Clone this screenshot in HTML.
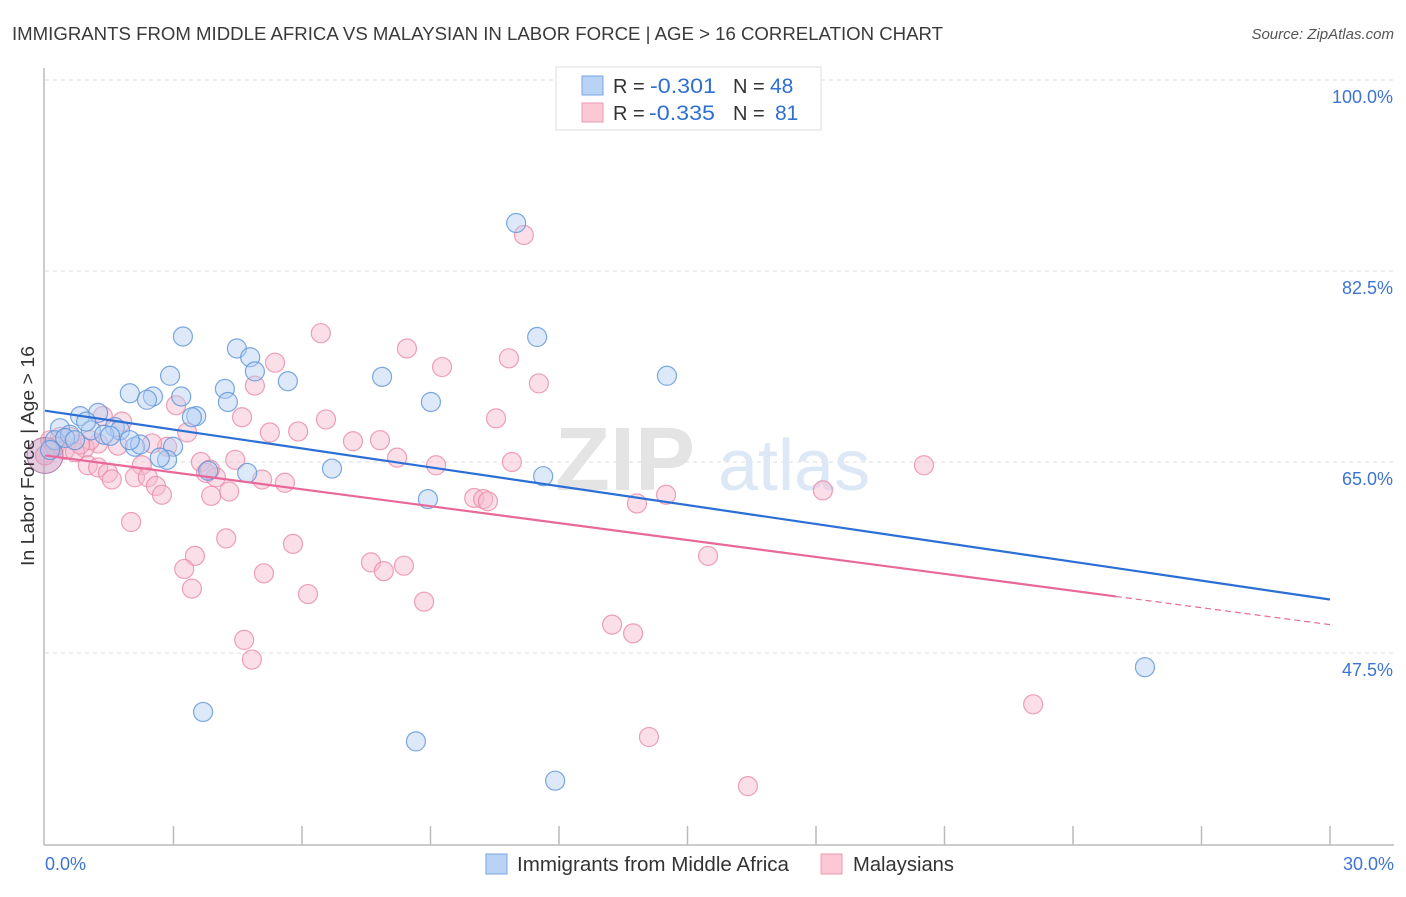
<!DOCTYPE html>
<html><head><meta charset="utf-8">
<style>
body{margin:0;background:#fff;font-family:"Liberation Sans",sans-serif;}
svg text{font-family:"Liberation Sans",sans-serif;}
</style></head>
<body>
<svg id="chart" width="1406" height="892" viewBox="0 0 1406 892" xmlns="http://www.w3.org/2000/svg">
<text x="12" y="40" font-size="18" fill="#3a3a3a" textLength="931" lengthAdjust="spacingAndGlyphs">IMMIGRANTS FROM MIDDLE AFRICA VS MALAYSIAN IN LABOR FORCE | AGE &gt; 16 CORRELATION CHART</text>
<text x="1394" y="39" font-size="15" fill="#555" font-style="italic" text-anchor="end">Source: ZipAtlas.com</text>
<g id="grid"></g>
<text x="555" y="490" font-size="90" fill="#e4e4e4" font-family="Liberation Serif" font-weight="bold">ZIP</text>
<text x="718" y="490" font-size="72" fill="#dce8f6">atlas</text>
<g id="axes"></g>
<g id="pinkPts"></g>
<g id="bluePts"></g>
<g id="lines"></g>
<text transform="translate(34,456) rotate(-90)" font-size="18" fill="#333" text-anchor="middle" textLength="220" lengthAdjust="spacingAndGlyphs">In Labor Force | Age &gt; 16</text>
<g>
<rect x="556" y="67" width="265" height="63" fill="#fff" stroke="#ddd"/>
<rect x="582" y="76" width="21" height="19" fill="#b9d3f5" stroke="#7aa6e3"/>
<rect x="582" y="103" width="21" height="19" fill="#fcc8d6" stroke="#ee9ab3"/>
<text x="613" y="93" font-size="20" fill="#333">R =</text><text x="650" y="93" font-size="21" fill="#2e6fd2" textLength="66" lengthAdjust="spacingAndGlyphs">-0.301</text>
<text x="733" y="93" font-size="20" fill="#333">N =</text><text x="770" y="93" font-size="21" fill="#2e6fd2">48</text>
<text x="613" y="120" font-size="20" fill="#333">R =</text><text x="649" y="120" font-size="21" fill="#2e6fd2" textLength="66" lengthAdjust="spacingAndGlyphs">-0.335</text>
<text x="733" y="120" font-size="20" fill="#333">N =</text><text x="775" y="120" font-size="21" fill="#2e6fd2">81</text>
</g>
<g>
<rect x="486" y="854" width="21" height="20" fill="#b9d3f5" stroke="#7aa6e3"/>
<text x="517" y="871" font-size="20" fill="#333" textLength="272" lengthAdjust="spacingAndGlyphs">Immigrants from Middle Africa</text>
<rect x="821" y="854" width="21" height="20" fill="#fcc8d6" stroke="#ee9ab3"/>
<text x="853" y="871" font-size="20" fill="#333" textLength="101" lengthAdjust="spacingAndGlyphs">Malaysians</text>
</g>
</svg>
<script>
const yTicks=[100,82.5,65,47.5];
const yTickLabels=["100.0%","82.5%","65.0%","47.5%"];
const xTickCount=10;
const blueX=[11.0,3.22,11.49,4.48,4.79,2.92,7.87,14.52,5.67,4.90,1.98,4.20,2.52,2.38,3.18,4.27,9.01,3.53,3.43,1.24,0.82,0.35,1.07,1.63,1.75,1.38,2.10,2.22,2.99,2.85,2.68,3.81,4.72,6.70,11.63,8.94,25.68,3.69,8.66,11.91,0.23,0.58,0.47,1.52,0.96,0.12,0.70,1.98];
const blueY=[86.9,76.5,76.45,75.4,74.6,72.9,72.8,72.9,72.4,73.3,71.3,71.7,71.0,70.7,71.0,70.5,70.5,69.2,69.1,69.5,69.2,68.1,67.9,68.2,67.9,67.5,66.4,66.6,66.4,65.2,65.4,64.2,64.0,64.4,63.7,61.6,46.2,42.1,39.4,35.8,67.0,67.5,67.2,67.4,68.7,66.1,67.0,67.0];
const pinkX=[11.18,6.44,8.45,5.37,9.27,10.83,11.53,4.90,3.06,4.60,6.56,10.53,1.35,1.80,3.32,5.25,5.91,7.19,7.82,2.85,2.50,1.70,1.24,0.93,8.22,9.13,10.90,20.52,4.44,3.64,2.26,1.00,1.24,1.47,1.56,2.10,2.40,3.76,3.99,5.07,5.60,2.59,2.73,3.88,4.30,10.02,10.23,10.34,13.82,14.50,18.16,2.01,4.23,5.79,3.50,3.25,7.61,7.91,8.38,5.11,15.48,3.43,6.14,8.85,13.24,13.73,4.65,4.83,23.07,14.10,16.41,0.35,0.58,0.12,0.23,0.47,0.70,0.0,1.05,0.82,3.85];
const pinkY=[85.8,76.8,75.4,74.1,73.7,74.5,72.2,72.0,70.2,69.1,68.9,69.0,69.2,68.7,67.7,67.7,67.8,66.9,67.0,66.4,66.7,66.5,66.7,66.3,65.4,64.7,65.0,64.7,65.2,65.0,64.7,64.7,64.5,64.0,63.4,63.6,63.6,64.0,63.6,63.4,63.1,62.8,62.0,61.9,62.3,61.7,61.6,61.4,61.2,62.0,62.4,59.5,58.0,57.5,56.4,55.2,55.8,55.0,55.5,54.8,56.4,53.4,52.9,52.2,50.1,49.3,48.7,46.9,42.8,39.8,35.3,67.3,67.3,67.0,66.4,66.1,65.9,65.6,67.0,66.6,64.3];
const blueTrend=[69.7,52.4];
const pinkTrend=[65.6,50.1];
const pinkSolidEnd=25.0;

const NS="http://www.w3.org/2000/svg";
const X0=45,X1=1330,Ytop=80,PX=191/17.5;
const sx=v=>X0+(v/30)*(X1-X0);
const sy=v=>Ytop+(100-v)*PX;
function mk(tag,attrs,parent){const e=document.createElementNS(NS,tag);for(const k in attrs)e.setAttribute(k,attrs[k]);parent.appendChild(e);return e;}
const grid=document.getElementById('grid');
yTicks.forEach((t,i)=>{
  const l=mk('line',{x1:45,x2:1394,y1:sy(t),y2:sy(t),stroke:'#ddd','stroke-dasharray':'4,4'},grid);
  
  
  const tx=mk('text',{x:1393,y:sy(t)+23,'font-size':18,fill:'#3d74d4','text-anchor':'end'},grid);
  tx.textContent=yTickLabels[i];
  
  
});
const ax=document.getElementById('axes');
mk('line',{x1:44,x2:44,y1:68,y2:845,stroke:'#bbb','stroke-width':1.5},ax);
mk('line',{x1:44,x2:1394,y1:845,y2:845,stroke:'#bbb','stroke-width':1.5},ax);
for(let k=1;k<=xTickCount;k++){const x=sx(k*3);mk('line',{x1:x,x2:x,y1:826,y2:845,stroke:'#bbb','stroke-width':1.5},ax);}
let t0=mk('text',{x:45,y:870,'font-size':18,fill:'#3d74d4'},ax);t0.textContent="0.0%";


let t1=mk('text',{x:1394,y:870,'font-size':18,fill:'#3d74d4','text-anchor':'end'},ax);t1.textContent="30.0%";


function pts(xs,ys,g,fill,stroke,name){
  xs.forEach((x,i)=>{
    let r=9.5;
    const c=mk('circle',{cx:sx(x),cy:sy(ys[i]),r:r,fill:fill,'fill-opacity':0.45,stroke:stroke,'stroke-opacity':0.8,'stroke-width':1.2},g);
    
    
  });
}
pts(pinkX,pinkY,document.getElementById('pinkPts'),'#f7b9cb','#e88aa7','malaysian-point');
pts(blueX,blueY,document.getElementById('bluePts'),'#b4cff2','#5b93d9','middle-africa-point');
const big=mk('circle',{cx:sx(0),cy:sy(65.6),r:18,fill:'#c998c0','fill-opacity':0.5,stroke:'#b07aa8','stroke-width':1},document.getElementById('pinkPts'));


const lg=document.getElementById('lines');
const bl=mk('line',{x1:sx(0),y1:sy(blueTrend[0]),x2:sx(30),y2:sy(blueTrend[1]),stroke:'#2b6fd6','stroke-width':2.2},lg);


const pAt=x=>pinkTrend[0]+(pinkTrend[1]-pinkTrend[0])*x/30;
const pl=mk('line',{x1:sx(0),y1:sy(pinkTrend[0]),x2:sx(pinkSolidEnd),y2:sy(pAt(pinkSolidEnd)),stroke:'#e8689a','stroke-width':2.2},lg);


const pd=mk('line',{x1:sx(pinkSolidEnd),y1:sy(pAt(pinkSolidEnd)),x2:sx(30),y2:sy(pinkTrend[1]),stroke:'#e8689a','stroke-width':1.2,'stroke-dasharray':'6,4'},lg);


</script>
</body></html>
